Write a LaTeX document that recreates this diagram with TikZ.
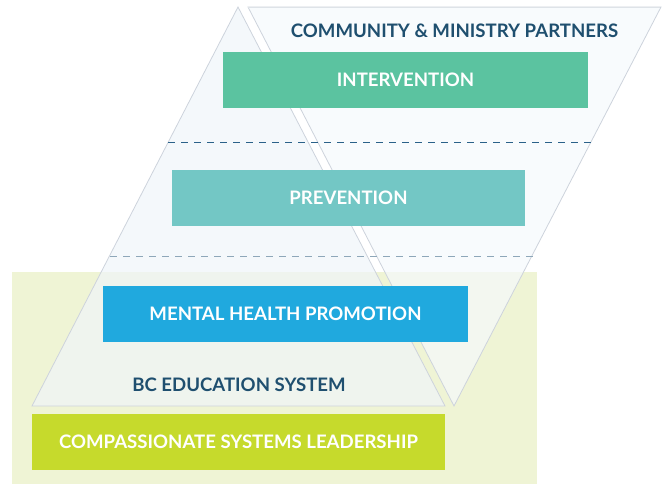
\documentclass[tikz,border=0pt]{standalone}
\usepackage{fontspec}
\setmainfont{Lato}
\definecolor{bggreen}{HTML}{EFF4D5}
\definecolor{trifill}{HTML}{EFF5FA}
\definecolor{invfill}{HTML}{F5F9FC}
\definecolor{triedge}{HTML}{CDD3DC}
\definecolor{topedge}{HTML}{DEE3E8}
\definecolor{darkblue}{HTML}{1F4F6F}
\definecolor{dashdark}{HTML}{2A6189}
\definecolor{dashlight}{HTML}{8EA7B9}
\definecolor{cintervention}{HTML}{5BC3A0}
\definecolor{cprevention}{HTML}{73C7C5}
\definecolor{cpromotion}{HTML}{20A9DE}
\definecolor{cleader}{HTML}{C6DA2C}
\begin{document}
\begin{tikzpicture}[x=1pt,y=-1pt,
  levelbox/.style={draw=none,inner sep=0pt,minimum height=56pt,text=white,font=\fontsize{18.6}{21}\selectfont\bfseries},
  caption/.style={inner sep=0pt,text=darkblue,font=\fontsize{18.6}{21}\selectfont\bfseries},
  sep/.style={dash pattern=on 7pt off 6pt,line width=0.9pt}]
\useasboundingbox (0,0) rectangle (662,484);
% green background
\fill[bggreen] (12,272) rectangle (537,484);
% upright triangle (BC education system)
\filldraw[fill=trifill,fill opacity=0.7,draw=triedge,line width=0.8pt] (32,406) -- (445,406) -- (238,7) -- cycle;
% inverted triangle (community & ministry partners)
\filldraw[fill=invfill,fill opacity=0.7,draw=triedge,line width=0.8pt] (248,7) -- (661,7) -- (454,406) -- cycle;
\draw[topedge,line width=1.6pt] (248,7.5) -- (660,7.5);
% dashed separators
\coordinate (d1a) at (168,142); \coordinate (d1b) at (591,142);
\coordinate (d2a) at (110,256); \coordinate (d2b) at (533,256);
\draw[sep,dashdark] (d1a) -- (d1b);
\draw[sep,dashlight] (d2a) -- (d2b);
% level boxes
\node[levelbox,fill=cintervention,minimum width=365pt] (intervention) at (405.5,80) {INTERVENTION};
\node[levelbox,fill=cprevention,minimum width=353pt] (prevention) at (348.5,198) {PREVENTION};
\node[levelbox,fill=cpromotion,minimum width=365pt] (promotion) at (285.5,314) {MENTAL HEALTH PROMOTION};
\node[levelbox,fill=cleader,minimum width=413pt] (leadership) at (238.5,442) {COMPASSIONATE SYSTEMS LEADERSHIP};
% captions
\node[caption] (community) at (454.5,31) {COMMUNITY \& MINISTRY PARTNERS};
\node[caption] (education) at (239,385) {BC EDUCATION SYSTEM};
\end{tikzpicture}
\end{document}
